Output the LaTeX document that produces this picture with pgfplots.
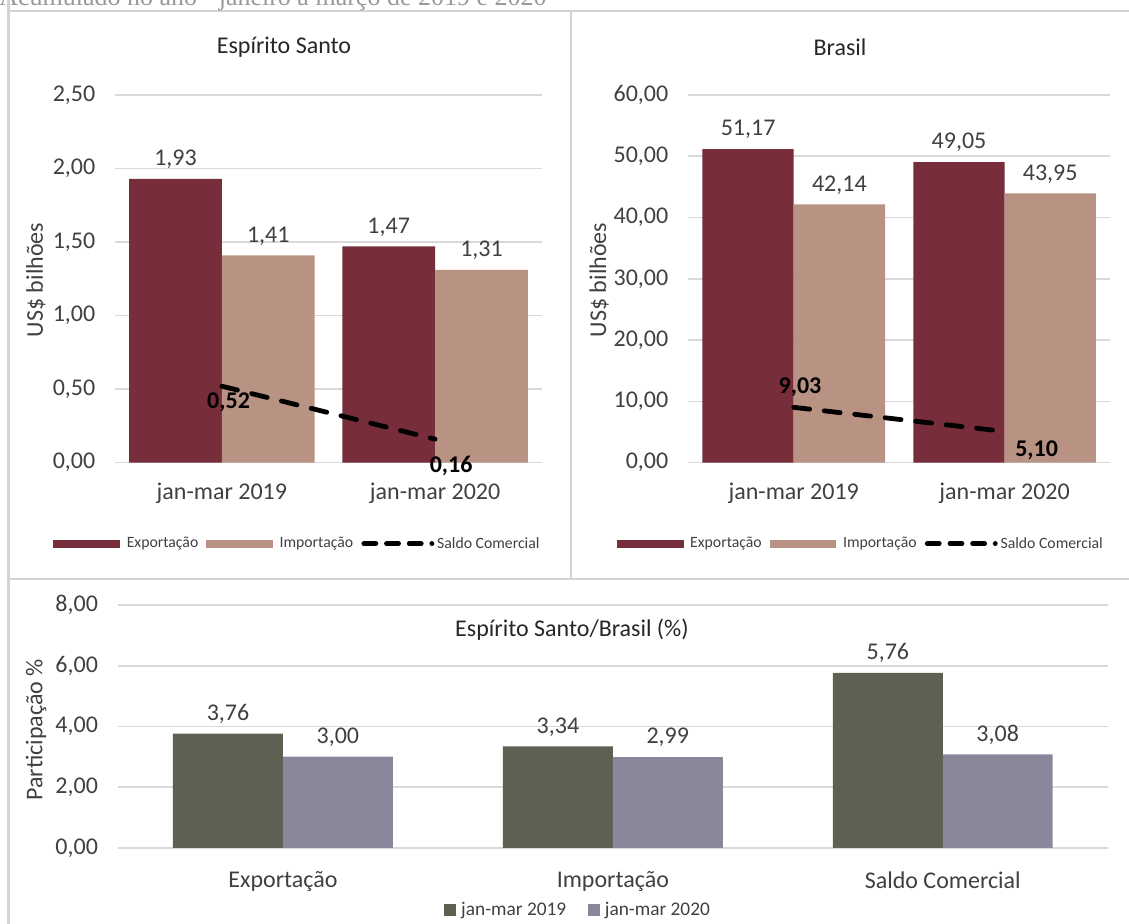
\documentclass[border=0pt]{standalone}
\usepackage{fontspec}
\setmainfont{Carlito}
\newfontfamily\seriffont{Liberation Serif}
\usepackage{pgfplots}
\pgfplotsset{compat=1.18}
\definecolor{expc}{RGB}{119,45,58}
\definecolor{impc}{RGB}{184,147,131}
\definecolor{cA}{RGB}{95,95,82}
\definecolor{cB}{RGB}{137,135,153}
\definecolor{txt}{RGB}{64,64,64}
\definecolor{gridc}{RGB}{217,217,217}
\definecolor{borderc}{RGB}{212,212,212}
\newcommand\bigf{\fontsize{18}{21}\selectfont}
\newcommand\fmt[1]{\pgfmathprintnumber[fixed,fixed zerofill,precision=2,use comma,assume math mode=true]{#1}}
\pgfplotsset{
  panel/.style={
    scale only axis,
    axis line style={draw=none},
    tick style={draw=none},
    major tick length=0pt,
    ymajorgrids,
    major grid style={gridc, line width=1.2pt},
    yticklabel={\fmt{\tick}},
    tick label style={font=\bigf, text=txt},
    yticklabel style={xshift=-11.5pt},
    xticklabel style={yshift=-12pt},
    clip=false,
  },
  lbl/.style={nodes near coords={\fmt{\pgfplotspointmeta}},
    nodes near coords style={font=\bigf, text=txt, anchor=south, yshift=4pt, xshift=#1}},
}
\begin{document}
\begin{tikzpicture}[x=0.75pt,y=0.75pt]
\useasboundingbox (0,0) rectangle (1129,924);
% panel borders
\draw[borderc, line width=1.6pt] (8.5,1000) -- (8.5,913) -- (1140,913);
\draw[borderc, line width=1.6pt] (571,913) -- (571,345);
\draw[borderc, line width=1.6pt] (8.5,913) -- (8.5,-10);
\draw[borderc, line width=1.6pt] (8.5,345) -- (1140,345);
% top title (cut)
\node[anchor=base west, inner sep=0pt, font=\seriffont\fontsize{19.5}{22}\selectfont, text=black!40] at (-1,918) {Acumulado no ano - janeiro a março de 2019 e 2020};
% titles and axis labels
\node[font=\bigf, text=black!85] at (284,877) {Espírito Santo};
\node[font=\bigf, text=black!85] at (840,877) {Brasil};
\node[font=\bigf, text=black!85] at (572,294) {Espírito Santo/Brasil (\%)};
\node[font=\bigf, text=txt, rotate=90] at (36,644) {US\$ bilhões};
\node[font=\bigf, text=txt, rotate=90] at (599,644) {US\$ bilhões};
\node[font=\bigf, text=txt, rotate=90] at (36,194) {Participação \%};

% left panel
\begin{axis}[panel, at={(86.475pt,345.975pt)}, anchor=south west,
  width=319.8pt, height=275.8pt,
  xmin=-0.5, xmax=1.5, ymin=0, ymax=2.5,
  ytick={0,0.5,1,1.5,2,2.5},
  xtick={0,1}, xticklabels={jan-mar 2019, jan-mar 2020},
  legend style={at={(0.428,-0.220)}, anchor=center, legend columns=3, draw=none, fill=none,
    font=\fontsize{11.8}{13}\selectfont, text=txt,
    /tikz/every even column/.append style={column sep=4pt}},
]
\addplot[ybar, bar width=0.435, bar shift=-0.2175, fill=expc, draw=none, lbl=-34.8pt,
  legend image code/.code={\fill[expc] (0pt,-3pt) rectangle (50pt,3pt); \path[draw=none,fill=none] (0pt,0pt) -- (53pt,0pt);}]
  coordinates {(0,1.93) (1,1.47)};
\addlegendentry{Exportação}
\addplot[ybar, bar width=0.435, bar shift=0.2175, fill=impc, draw=none, lbl=34.8pt,
  legend image code/.code={\fill[impc] (0pt,-3pt) rectangle (50pt,3pt); \path[draw=none,fill=none] (0pt,0pt) -- (53pt,0pt);}]
  coordinates {(0,1.41) (1,1.31)};
\addlegendentry{Importação}
\addplot[sharp plot, black, line width=3.6pt, line cap=round, dash pattern=on 12pt off 11pt,
  legend image code/.code={\draw[black, line width=3.6pt, line cap=round, dash pattern=on 9pt off 8pt] (2pt,0pt) -- (53pt,0pt); \path[draw=none,fill=none] (0pt,0pt) -- (55pt,0pt);}]
  coordinates {(0,0.52) (1,0.16)};
\addlegendentry{Saldo Comercial}
\node[font=\bigf\bfseries, xshift=5pt, yshift=-12pt] at (axis cs:0,0.52) {0,52};
\node[font=\bigf\bfseries, xshift=12pt, yshift=-20pt] at (axis cs:1,0.16) {0,16};
\end{axis}

% right panel
\begin{axis}[panel, at={(516.225pt,345.975pt)}, anchor=south west,
  width=316.3pt, height=275.8pt,
  xmin=-0.5, xmax=1.5, ymin=0, ymax=60,
  ytick={0,10,20,30,40,50,60},
  xtick={0,1}, xticklabels={jan-mar 2019, jan-mar 2020},
  legend style={at={(0.410,-0.220)}, anchor=center, legend columns=3, draw=none, fill=none,
    font=\fontsize{11.8}{13}\selectfont, text=txt,
    /tikz/every even column/.append style={column sep=4pt}},
]
\addplot[ybar, bar width=0.433, bar shift=-0.2165, fill=expc, draw=none, lbl=-34.2pt,
  legend image code/.code={\fill[expc] (0pt,-3pt) rectangle (50pt,3pt); \path[draw=none,fill=none] (0pt,0pt) -- (53pt,0pt);}]
  coordinates {(0,51.17) (1,49.05)};
\addlegendentry{Exportação}
\addplot[ybar, bar width=0.433, bar shift=0.2165, fill=impc, draw=none, lbl=34.2pt,
  legend image code/.code={\fill[impc] (0pt,-3pt) rectangle (50pt,3pt); \path[draw=none,fill=none] (0pt,0pt) -- (53pt,0pt);}]
  coordinates {(0,42.14) (1,43.95)};
\addlegendentry{Importação}
\addplot[sharp plot, black, line width=3.6pt, line cap=round, dash pattern=on 12pt off 11pt,
  legend image code/.code={\draw[black, line width=3.6pt, line cap=round, dash pattern=on 9pt off 8pt] (2pt,0pt) -- (53pt,0pt); \path[draw=none,fill=none] (0pt,0pt) -- (55pt,0pt);}]
  coordinates {(0,9.03) (1,5.10)};
\addlegendentry{Saldo Comercial}
\node[font=\bigf\bfseries, xshift=4.7pt, yshift=15pt] at (axis cs:0,9.03) {9,03};
\node[font=\bigf\bfseries, xshift=24pt, yshift=-14.4pt] at (axis cs:1,5.10) {5,10};
\end{axis}

% bottom panel
\begin{axis}[panel, at={(88.5pt,57.15pt)}, anchor=south west,
  width=742.3pt, height=182.1pt,
  xmin=-0.5, xmax=2.5, ymin=0, ymax=8,
  ytick={0,2,4,6,8},
  xtick={0,1,2}, xticklabels={Exportação, Importação, Saldo Comercial},
  xticklabel style={yshift=-2.5pt},
  legend style={at={(0.465,-0.256)}, anchor=center, legend columns=2, draw=none, fill=none,
    font=\fontsize{14.5}{16}\selectfont, text=txt,
    /tikz/every even column/.append style={column sep=14pt}},
]
\addplot[ybar, bar width=0.3333, bar shift=-0.16667, fill=cA, draw=none, lbl=-41.2pt,
  legend image code/.code={\fill[cA] (0pt,-4.5pt) rectangle (9pt,4.5pt); \path[draw=none,fill=none] (0pt,0pt) -- (11pt,0pt);}]
  coordinates {(0,3.76) (1,3.34) (2,5.76)};
\addlegendentry{jan-mar 2019}
\addplot[ybar, bar width=0.3333, bar shift=0.16667, fill=cB, draw=none, lbl=41.2pt,
  legend image code/.code={\fill[cB] (0pt,-4.5pt) rectangle (9pt,4.5pt); \path[draw=none,fill=none] (0pt,0pt) -- (11pt,0pt);}]
  coordinates {(0,3.00) (1,2.99) (2,3.08)};
\addlegendentry{jan-mar 2020}
\end{axis}
\end{tikzpicture}
\end{document}
